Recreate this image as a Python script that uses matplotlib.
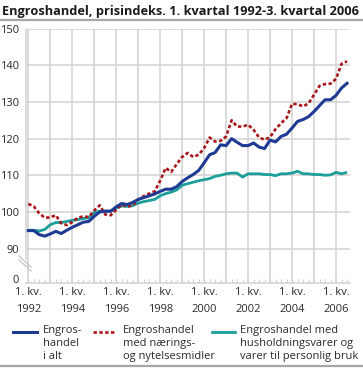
import numpy as np
import matplotlib.pyplot as plt
from matplotlib.lines import Line2D

plt.rcParams['font.family'] = ['Open Sans', 'DejaVu Sans']

# quarterly price index, 1. kv. 1992 - 3. kv. 2006
start_year = 1992
i_alt = [94.9, 94.9, 93.8, 93.4,
         94.0, 94.7, 94.1, 95.0,
         95.8, 96.5, 97.2, 97.4,
         98.8, 100.0, 100.2, 100.2,
         101.4, 102.3, 102.0, 102.6,
         103.4, 103.9, 104.4, 104.9,
         105.6, 106.2, 106.2, 106.9,
         108.3, 109.3, 110.2, 111.3,
         113.4, 115.6, 116.2, 118.3,
         118.1, 120.0, 119.0, 118.1,
         118.1, 118.8, 117.7, 117.3,
         119.6, 119.1, 120.6, 121.2,
         122.9, 124.7, 125.2, 126.0,
         127.4, 129.0, 130.6, 130.6,
         131.8, 133.8, 135.1]
naering = [102.2, 101.5, 99.6, 98.4,
           98.5, 99.1, 96.9, 96.4,
           97.2, 98.4, 98.8, 98.6,
           100.4, 101.8, 99.3, 99.1,
           100.6, 102.0, 101.4, 101.8,
           103.4, 104.3, 105.0, 105.6,
           108.5, 112.0, 110.9, 113.0,
           115.0, 116.1, 115.0, 115.6,
           117.4, 120.3, 119.2, 119.4,
           120.6, 125.0, 123.3, 123.3,
           123.8, 122.4, 120.3, 119.7,
           120.4, 122.6, 124.2, 125.6,
           129.5, 129.4, 128.8, 129.6,
           132.0, 134.4, 134.9, 135.0,
           136.3, 140.4, 141.1]
husholdning = [95.0, 95.0, 94.8, 95.2,
               96.5, 97.1, 97.1, 97.4,
               97.7, 97.9, 98.2, 98.4,
               99.8, 100.2, 100.2, 100.2,
               101.1, 101.6, 101.5, 101.7,
               102.4, 102.8, 103.1, 103.4,
               104.4, 105.0, 105.4, 106.0,
               107.3, 107.7, 108.1, 108.5,
               108.8, 109.1, 109.7, 110.0,
               110.4, 110.6, 110.6, 109.5,
               110.4, 110.4, 110.4, 110.2,
               110.2, 109.9, 110.4, 110.4,
               110.6, 111.1, 110.4, 110.4,
               110.2, 110.2, 110.0, 110.1,
               110.8, 110.4, 110.8]

years = list(range(1992, 2007))
label_years = [1992, 1994, 1996, 1998, 2000, 2002, 2004, 2006]
y_ticks = [90, 100, 110, 120, 130, 140, 150]
legend_labels = ['Engros-\nhandel\ni alt',
                 'Engroshandel\nmed nærings-\nog nytelsesmidler',
                 'Engroshandel med\nhusholdningsvarer og\nvarer til personlig bruk']
title = 'Engroshandel, prisindeks. 1. kvartal 1992-3. kvartal 2006'

blue = '#1f3a93'
red = '#a8151b'
teal = '#1c9e9a'
grid_c = '#d2d2d2'
text_c = '#2a2a2a'

x = start_year + np.arange(len(i_alt)) / 4.0

fig = plt.figure(figsize=(3.63, 3.68), dpi=100)
W, H = 363.0, 368.0
ax = fig.add_axes([26.1 / W, 1 - 283 / H, 324.2 / W, 254.3 / H])

zero_pos = 80.7  # where the "0" label sits below the axis break
ax.set_xlim(1991.9, 2006.65)
ax.set_ylim(80.6, 150)

ax.plot(x, husholdning, color=teal, lw=2.0, solid_capstyle='butt', zorder=3)
ax.plot(x, naering, color=red, lw=1.9, ls=(0, (1.3, 0.9)), zorder=4)
ax.plot(x, i_alt, color=blue, lw=2.2, zorder=5)

ax.set_xticks(years)
ax.set_xticklabels(['1. kv.\n%d' % y if y in label_years else '' for y in years],
                   fontsize=8, color=text_c, linespacing=1.7)
ax.set_xticks(start_year + np.arange(0, (2006.75 - start_year) * 4) / 4.0, minor=True)
ax.set_yticks([zero_pos] + y_ticks)
ax.set_yticklabels(['0'] + [str(v) for v in y_ticks], fontsize=8, color=text_c)

ax.grid(True, color=grid_c, lw=1.1)
ax.yaxis.get_gridlines()[0].set_visible(False)
ax.set_axisbelow(True)

ax.tick_params(axis='x', which='both', direction='in', length=3, width=0.8,
               color=grid_c, pad=3)
ax.tick_params(axis='y', length=0, pad=5)
ax.get_yticklabels()[0].set_va('baseline')

for s in ['top', 'right']:
    ax.spines[s].set_visible(False)
ax.spines['left'].set_bounds(87.2, 150)
ax.spines['left'].set_color(grid_c)
ax.spines['bottom'].set_color(grid_c)
ax.spines['left'].set_linewidth(1.1)
ax.spines['bottom'].set_linewidth(1.1)

# axis break marks
for off in (0, 4):
    fig.add_artist(Line2D([19 / W, 31 / W], [1 - (256 + off) / H, 1 - (267 + off) / H],
                          color='#c8c8c8', lw=1.0))

# title and rules
fig.text(2 / W, 1 - 11 / H, title, fontsize=9.2, fontweight='bold',
         color='#1a1a1a', va='center', ha='left')
fig.add_artist(Line2D([0, 1], [1 - 19.5 / H] * 2, color='#a6a6a6', lw=1.6))
fig.add_artist(Line2D([0, 1], [1 - 366 / H] * 2, color='#a6a6a6', lw=1.6))

# legend
handles = [(blue, '-', 2.2), (red, (0, (1.3, 0.9)), 1.9), (teal, '-', 2.0)]
hx = [(13, 37, 43), (93, 115, 123), (212, 235, 240)]
for (c, ls, lw), (x0, x1, tx), lab in zip(handles, hx, legend_labels):
    fig.add_artist(Line2D([x0 / W, x1 / W], [1 - 331.5 / H] * 2, color=c, ls=ls, lw=lw))
    fig.text(tx / W, 1 - 325 / H, lab, fontsize=8, color=text_c,
             va='top', ha='left', linespacing=1.25)

fig.savefig('out.png', dpi=100)
